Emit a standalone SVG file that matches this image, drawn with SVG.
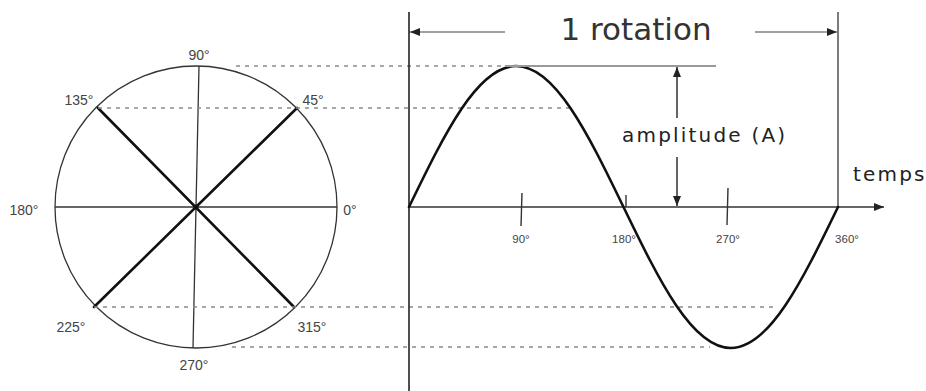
<svg xmlns="http://www.w3.org/2000/svg" width="926" height="391" viewBox="0 0 926 391">
<defs>
<style>
.dash{stroke:#8a8a8a;stroke-width:1.6;stroke-dasharray:4 5;fill:none}
.thin{stroke:#333;stroke-width:1.3;fill:none}
.thick{stroke:#111;stroke-width:2.6;fill:none;stroke-linecap:round}
.deg{font-family:"Liberation Sans",Arial,sans-serif;font-size:14px;fill:#444}
.tdeg{font-family:"Liberation Sans",Arial,sans-serif;font-size:11.5px;fill:#444}
.lbl{font-family:"DejaVu Sans",sans-serif;font-size:20px;fill:#222;letter-spacing:2.2px}
</style>
<marker id="ah" markerWidth="10" markerHeight="8" refX="10" refY="4" orient="auto" markerUnits="userSpaceOnUse">
<path d="M0,0 L10,4 L0,8 z" fill="#222"/>
</marker>
</defs>
<rect width="926" height="391" fill="#fff"/>

<g id="circle">
<circle cx="196" cy="207" r="141" class="thin"/>
<line x1="55" y1="207" x2="337" y2="207" class="thin"/>
<line x1="199" y1="66" x2="193" y2="348" class="thin"/>
<line x1="98" y1="108" x2="294" y2="307" class="thick"/>
<line x1="297" y1="108" x2="94" y2="307" class="thick"/>
<circle cx="196" cy="207" r="2.5" fill="#111"/>
<text class="deg" x="199" y="60" text-anchor="middle">90°</text>
<text class="deg" x="79" y="105" text-anchor="middle">135°</text>
<text class="deg" x="313" y="105" text-anchor="middle">45°</text>
<text class="deg" x="24" y="215" text-anchor="middle">180°</text>
<text class="deg" x="350" y="215" text-anchor="middle">0°</text>
<text class="deg" x="71" y="332" text-anchor="middle">225°</text>
<text class="deg" x="312" y="332" text-anchor="middle">315°</text>
<text class="deg" x="194" y="370" text-anchor="middle">270°</text>
</g>

<g id="projections">
<line x1="236" y1="66" x2="505" y2="66" class="dash"/>
<line x1="98" y1="108" x2="572" y2="108" class="dash"/>
<line x1="94" y1="307" x2="776" y2="307" class="dash"/>
<line x1="232" y1="347" x2="710" y2="347" class="dash"/>
</g>

<g id="axes">
<line x1="409" y1="12" x2="409" y2="391" stroke="#222" stroke-width="1.6"/>
<line x1="838" y1="12" x2="838" y2="207" stroke="#444" stroke-width="1.4"/>
<line x1="409" y1="207" x2="884" y2="207" stroke="#333" stroke-width="1.3" marker-end="url(#ah)"/>
<text class="lbl" x="853" y="181">temps</text>
</g>

<g id="wave">
<path d="M409,207 C444.85,132.96 477.65,66 516.25,66 C554.85,66 587.65,132.96 623.5,207 C659.35,281.04 692.15,348 730.75,348 C769.35,348 802.15,281.04 838,207" class="thick"/>
</g>

<g id="ticks">
<line x1="522" y1="193" x2="521" y2="226" stroke="#333" stroke-width="1.4"/>
<line x1="626" y1="195" x2="626" y2="207" stroke="#333" stroke-width="1.4"/>
<line x1="728" y1="188" x2="727" y2="225" stroke="#333" stroke-width="1.4"/>
<text class="tdeg" x="521" y="243" text-anchor="middle">90°</text>
<text class="tdeg" x="624" y="243" text-anchor="middle">180°</text>
<text class="tdeg" x="728" y="243" text-anchor="middle">270°</text>
<text class="tdeg" x="847" y="243" text-anchor="middle">360°</text>
</g>

<g id="rotation">
<line x1="505" y1="32" x2="410" y2="32" stroke="#444" stroke-width="1.2" marker-end="url(#ah)"/>
<line x1="755" y1="32" x2="837" y2="32" stroke="#444" stroke-width="1.2" marker-end="url(#ah)"/>
<text x="636" y="40" text-anchor="middle" font-family="DejaVu Sans,sans-serif" font-size="31" fill="#333">1 rotation</text>
</g>

<g id="amplitude">
<line x1="505" y1="66" x2="716" y2="66" stroke="#999" stroke-width="1.8"/>
<line x1="677" y1="118" x2="677" y2="67" stroke="#222" stroke-width="1.4" marker-end="url(#ah)"/>
<line x1="677" y1="157" x2="677" y2="206" stroke="#222" stroke-width="1.4" marker-end="url(#ah)"/>
<text class="lbl" x="622" y="142">amplitude (A)</text>
</g>
</svg>
